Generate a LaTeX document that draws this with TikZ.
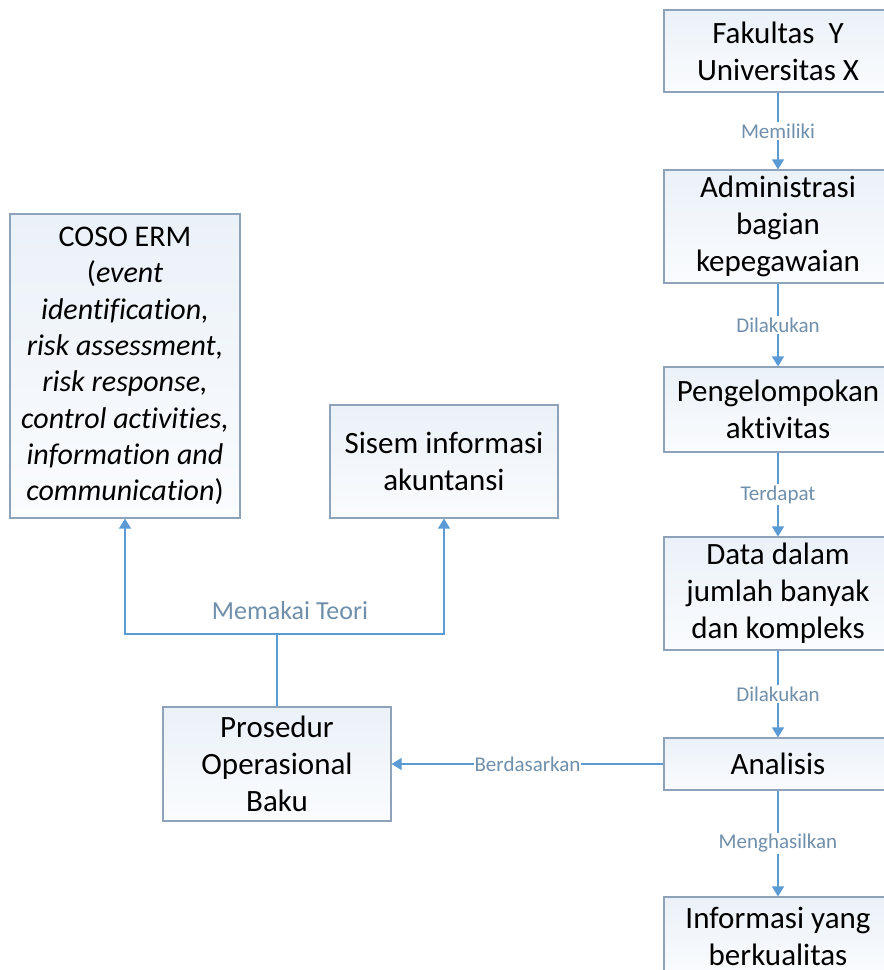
\documentclass[tikz,border=0pt]{standalone}
\usepackage{fontspec}
\setmainfont{Carlito}[Ligatures=NoCommon]
\usetikzlibrary{arrows.meta}
\definecolor{arr}{HTML}{5B9BD5}
\definecolor{lbl}{HTML}{6F8FAB}
\definecolor{bord}{HTML}{8EA3BA}
\definecolor{ftop}{HTML}{EBF1F8}
\definecolor{fbot}{HTML}{FAFCFE}
\begin{document}
\begin{tikzpicture}[x=1pt,y=-1pt,
  box/.style={draw=bord, line width=1.2pt, top color=ftop, bottom color=fbot,
    align=center, inner sep=0pt, font=\fontsize{31}{37}\selectfont},
  conn/.style={draw=arr, line width=1.3pt, -{Triangle[width=12pt,length=10pt]}},
  plain/.style={draw=arr, line width=1.3pt},
  lab/.style={fill=white, text=lbl, inner sep=1.5pt, font=\fontsize{21}{24}\selectfont}]
\useasboundingbox[fill=white] (0,0) rectangle (884,970);

% right column
\node[box, minimum width=228pt, minimum height=82pt] (fak) at (778,51) {Fakultas~ Y\\Universitas X};
\node[box, minimum width=228pt, minimum height=113pt] (adm) at (778,226.5) {Administrasi\\bagian\\kepegawaian};
\node[box, minimum width=228pt, minimum height=85pt] (pen) at (778,409.5) {Pengelompokan\\aktivitas};
\node[box, minimum width=228pt, minimum height=113pt] (dat) at (778,593.5) {Data dalam\\jumlah banyak\\dan kompleks};
\node[box, minimum width=228pt, minimum height=52pt] (ana) at (778,764) {Analisis};
\node[box, minimum width=228pt, minimum height=78pt] (inf) at (778,936) {Informasi yang\\berkualitas};

% left side
\node[box, minimum width=230pt, minimum height=304pt, font=\fontsize{30}{36.3}\selectfont] (coso) at (125,366)
  {COSO ERM\\(\textit{event}\\\textit{identification,}\\\textit{risk assessment,}\\\textit{risk response,}\\\textit{control activities,}\\\textit{information and}\\\textit{communication})};
\node[box, minimum width=228pt, minimum height=113pt] (sis) at (444,461.5) {Sisem informasi\\akuntansi};
\node[box, minimum width=228pt, minimum height=114pt] (pro) at (277,764) {Prosedur\\Operasional\\Baku};

% connectors
\draw[conn] (fak) -- node[lab]{Memiliki} (adm);
\draw[conn] (adm) -- node[lab]{Dilakukan} (pen);
\draw[conn] (pen) -- node[lab]{Terdapat} (dat);
\draw[conn] (dat) -- node[lab]{Dilakukan} (ana);
\draw[conn] (ana) -- node[lab]{Menghasilkan} (inf);
\draw[conn] (ana) -- node[lab, inner sep=0.5pt]{Berdasarkan} (pro);

\coordinate (j) at (277,634);
\draw[plain] (pro.north) -- (j);
\draw[conn] (j) -| (coso.south);
\draw[conn] (j) -| (sis.south);
\node[text=lbl, font=\fontsize{26}{29}\selectfont] (mt) at (290,611) {Memakai Teori};
\end{tikzpicture}
\end{document}
